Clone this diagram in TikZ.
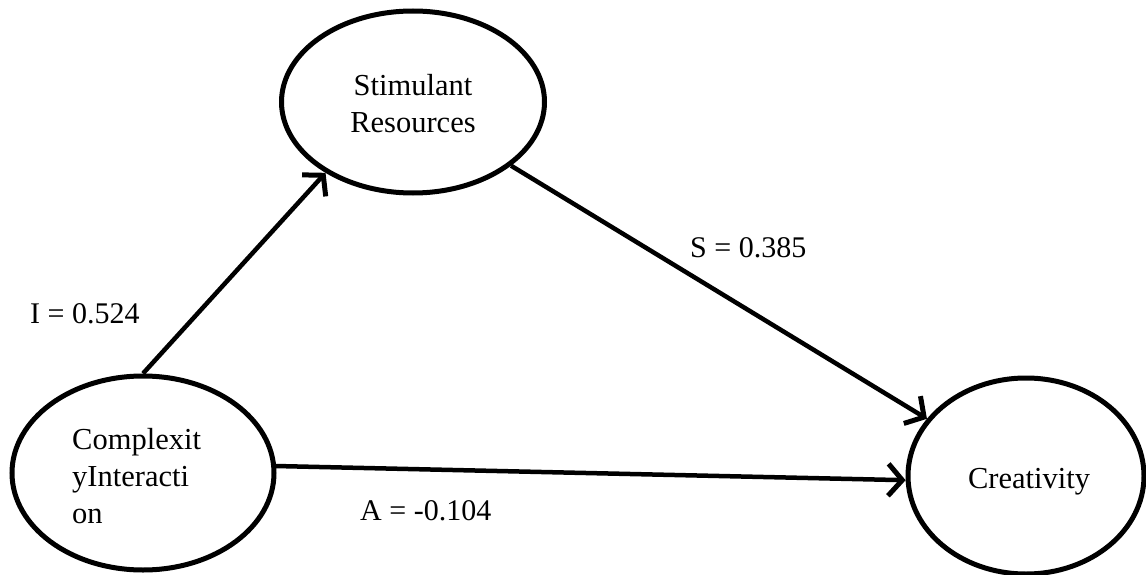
\documentclass[tikz,border=0pt]{standalone}
\usepackage{fontspec}
\setmainfont{Liberation Serif}
\usetikzlibrary{shapes.geometric,arrows.meta}
\begin{document}
\begin{tikzpicture}[x=1pt,y=-1pt,
  latent/.style={draw,ellipse,line width=5pt,inner sep=0pt},
  txt/.style={font=\fontsize{30.5}{37}\selectfont,inner sep=0pt},
  path/.style={line width=4.5pt,-{Straight Barb[length=14pt,width=32pt,line width=5pt]}},
  coef/.style={font=\fontsize{30}{36}\selectfont,anchor=base west,inner sep=0pt}]
\useasboundingbox (0,0) rectangle (1146,575);
\node[latent,minimum width=263pt,minimum height=182pt] (sr) at (413,102) {};
\node[latent,minimum width=262pt,minimum height=194pt] (ci) at (143,473) {};
\node[latent,minimum width=236pt,minimum height=196pt] (cr) at (1026,476) {};
\node[txt,anchor=base,align=center] (srt) at (413,133) {Stimulant\\Resources};
\node[txt,anchor=base west,align=left] (cit) at (72,523) {Complexit\\yInteracti\\on};
\node[txt,anchor=base] (crt) at (1029,488) {Creativity};
\draw[path] (ci.90) -- (sr.219);
\draw[path] (sr.-33) -- (cr.150);
\draw[path] (ci.3) -- (cr.182);
\node[coef] (li) at (30,323) {I = 0.524};
\node[coef] (ls) at (690,257) {S = 0.385};
\node[coef] (la) at (360,520) {A = -0.104};
\end{tikzpicture}
\end{document}
